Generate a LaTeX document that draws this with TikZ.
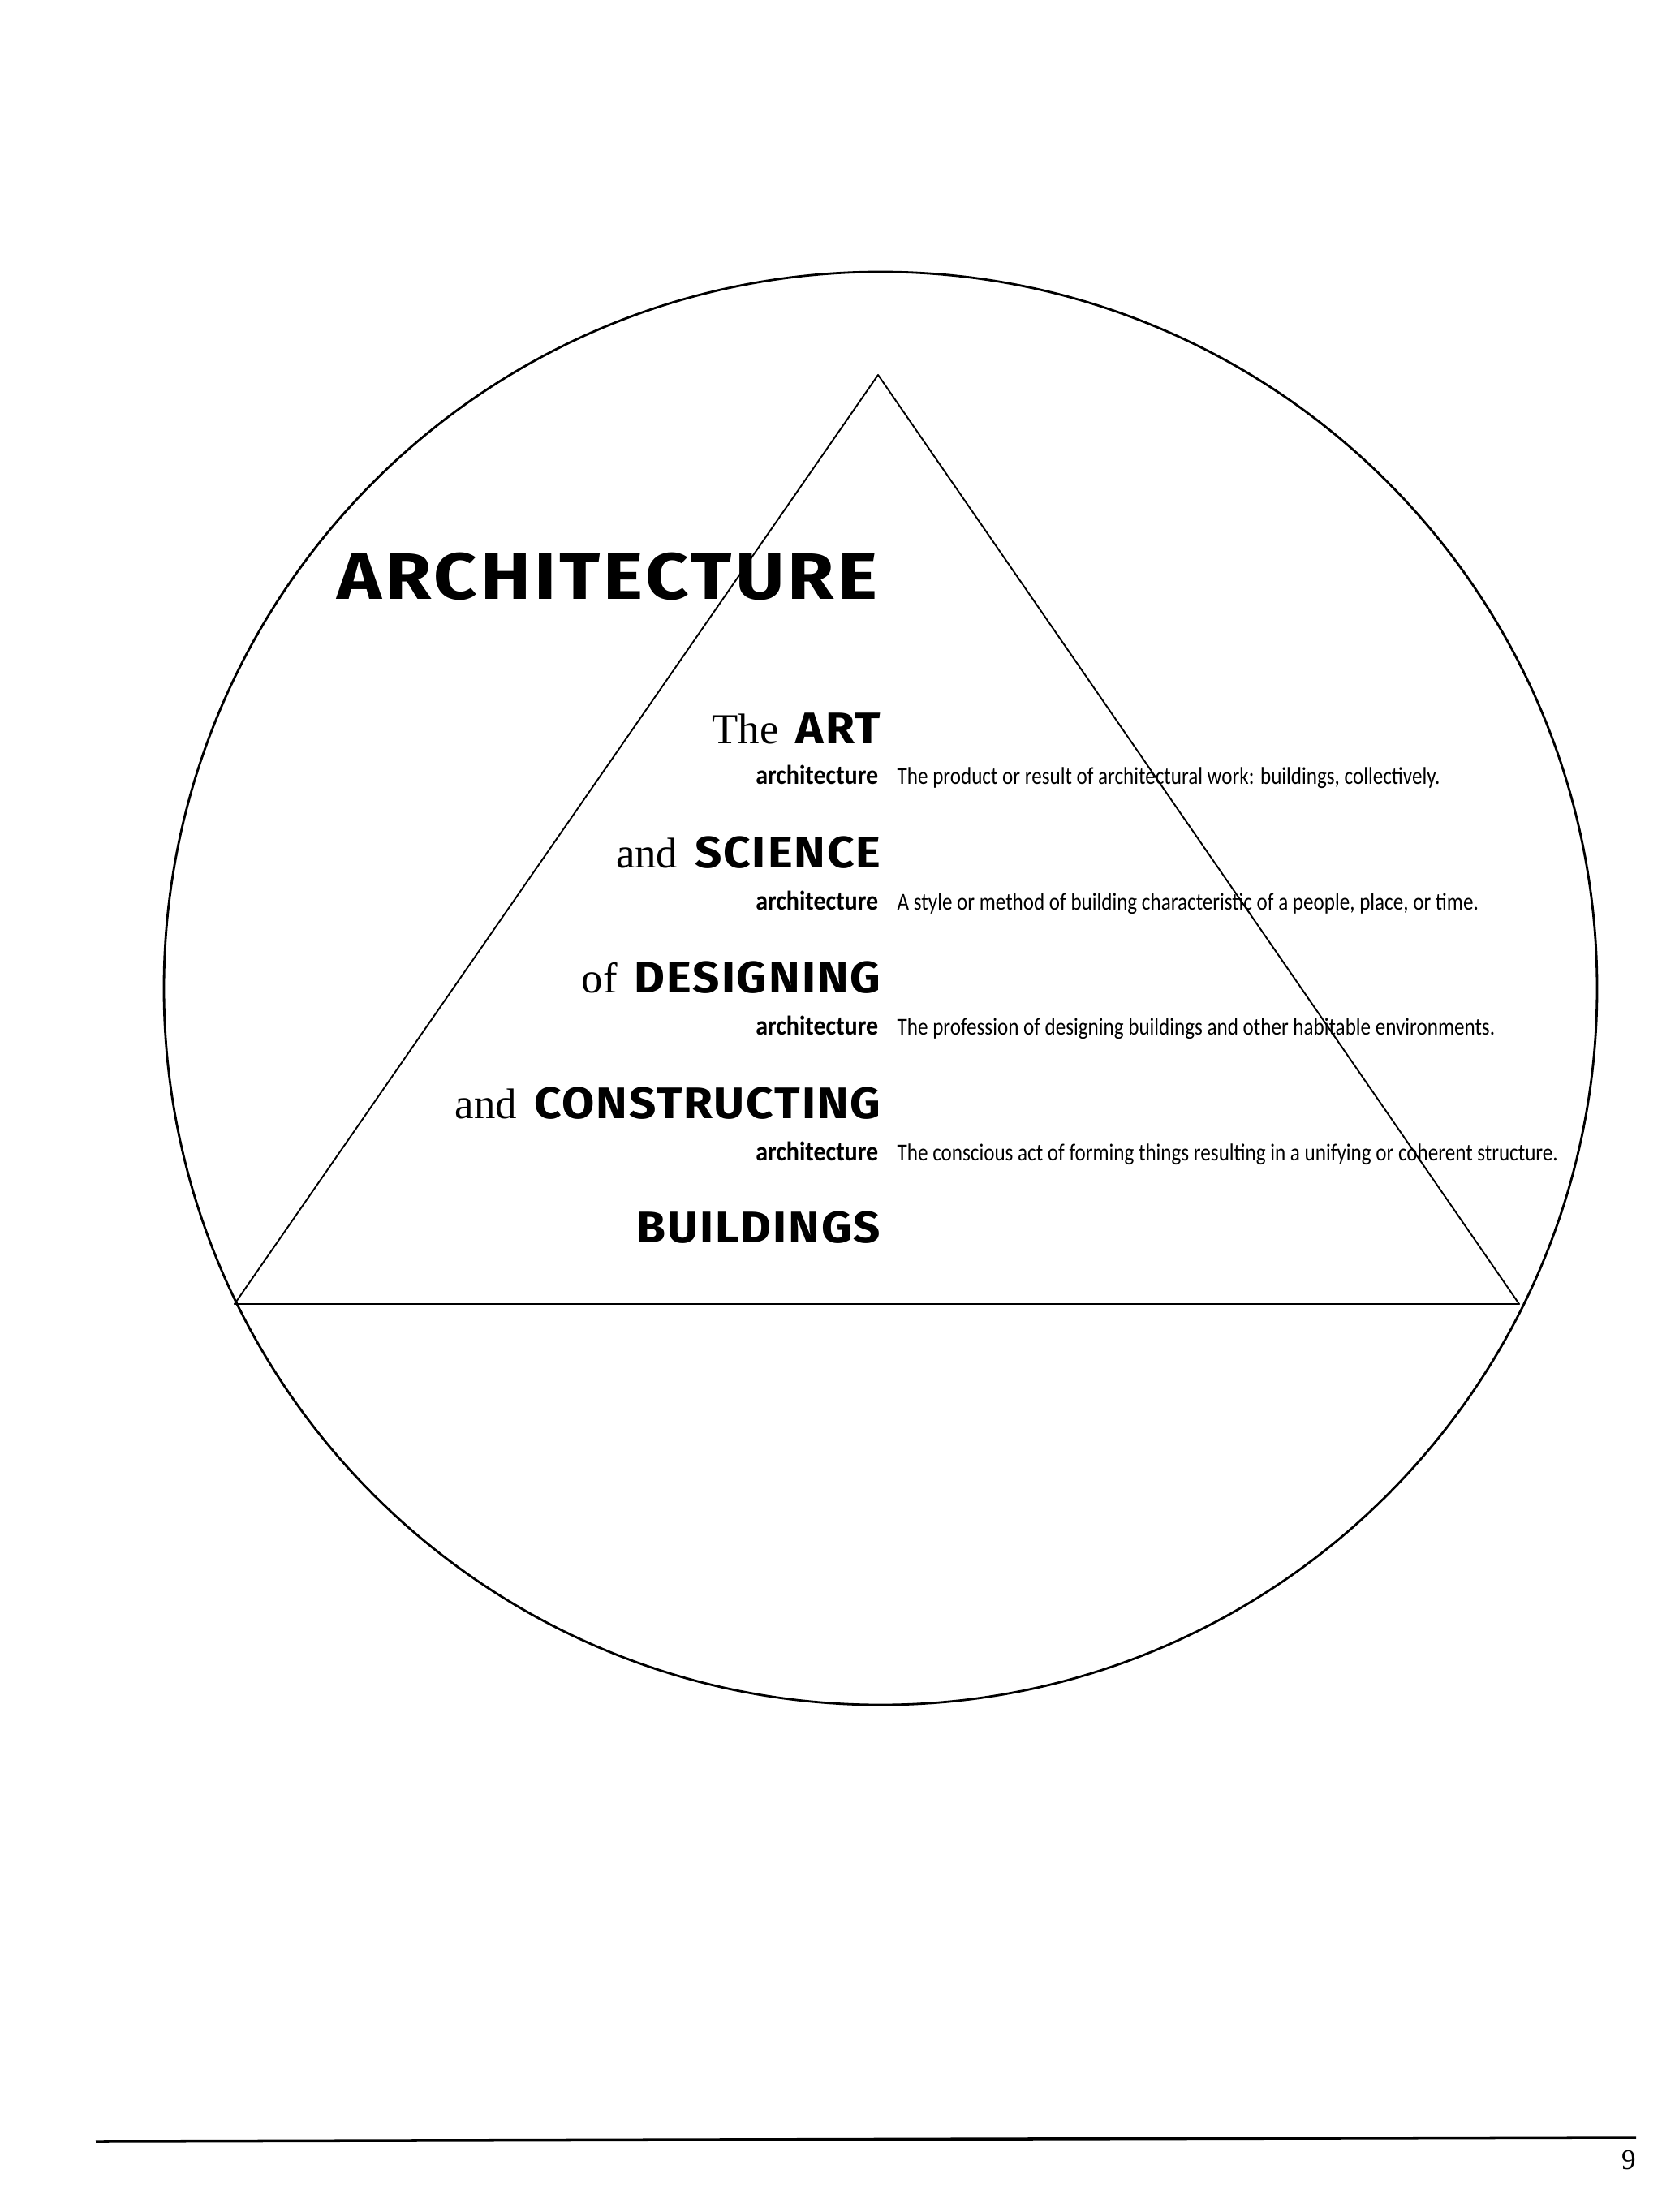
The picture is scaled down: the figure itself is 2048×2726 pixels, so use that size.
\documentclass[tikz,border=0pt]{standalone}
\usepackage{fontspec}
\setmainfont{Liberation Serif}
\newfontfamily\capsfont[FakeStretch=1.07,LetterSpace=3.5]{Fira Sans}
\newfontfamily\titlefont[FakeStretch=1.15,LetterSpace=5]{Fira Sans}
\newfontfamily\termfont[FakeStretch=0.9]{Carlito}
\newfontfamily\deffont[FakeStretch=0.84]{Carlito}
\newcommand\kw[1]{{\capsfont\bfseries\fontsize{15.5}{18}\selectfont #1}}
\begin{document}
\begin{tikzpicture}
      [x=0.01cm,y=-0.01cm,line join=round,
      title/.style={anchor=base east,inner sep=0pt,font=\titlefont\bfseries\fontsize{23}{27}\selectfont},
      head/.style={anchor=base east,inner sep=0pt,font=\fontsize{15}{18}\selectfont},
      term/.style={anchor=base east,inner sep=0pt,font=\termfont\bfseries\fontsize{9.5}{11}\selectfont},
      gloss/.style={anchor=base west,inner sep=0pt,font=\deffont\fontsize{8.5}{10}\selectfont}]
      \useasboundingbox (0,0) rectangle (2048,2726);
      \coordinate (centre) at (1085,1218);
      \coordinate (apex) at (1082,462);
      \coordinate (baseL) at (289,1607);
      \coordinate (baseR) at (1872,1607);
      \draw[line width=0.8pt] (centre) circle [radius=883];
      \draw[line width=0.55pt] (apex) -- (baseR) -- (baseL) -- cycle;
      \node[title] (arch) at (1082,738) {ARCHITECTURE};
      \node[head] (art) at (1086,916) {The\hspace{0.4em}\kw{ART}};
      \node[term] (t1) at (1083,966) {architecture};
      \node[gloss] (g1) at (1105,966) {The product or result of architectural work: buildings, collectively.};
      \node[head] (sci) at (1086,1069) {and\hspace{0.4em}\kw{SCIENCE}};
      \node[term] (t2) at (1083,1121) {architecture};
      \node[gloss] (g2) at (1105,1121) {A style or method of building characteristic of a people, place, or time.};
      \node[head] (des) at (1086,1223) {of\hspace{0.4em}\kw{DESIGNING}};
      \node[term] (t3) at (1083,1275) {architecture};
      \node[gloss] (g3) at (1105,1275) {The profession of designing buildings and other habitable environments.};
      \node[head] (con) at (1086,1378) {and\hspace{0.4em}\kw{CONSTRUCTING}};
      \node[term] (t4) at (1083,1430) {architecture};
      \node[gloss] (g4) at (1105,1430) {The conscious act of forming things resulting in a unifying or coherent structure.};
      \node[head] (bld) at (1086,1531) {\kw{BUILDINGS}};
      % page rule and folio
      \coordinate (ruleL) at (118,2639);
      \coordinate (ruleR) at (2016,2634);
      \draw[line width=1pt] (ruleL) -- (ruleR);
      \node[font=\fontsize{10}{12}\selectfont] (folio) at (2007,2662) {9};
    \end{tikzpicture}
\end{document}
